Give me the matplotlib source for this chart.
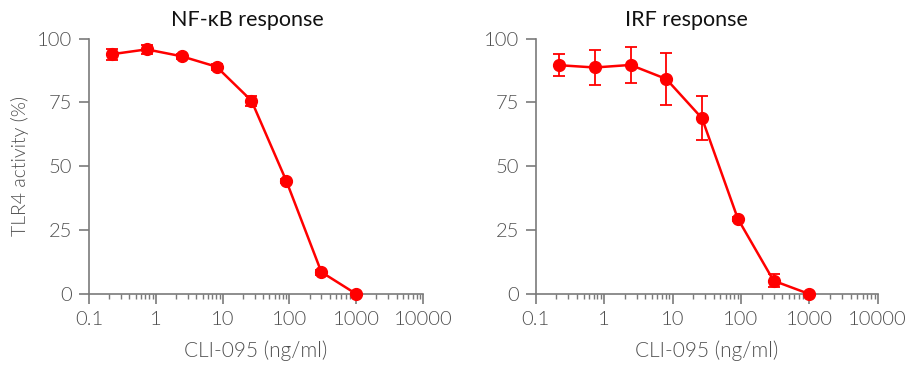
import matplotlib
matplotlib.use("Agg")
import matplotlib.pyplot as plt
import matplotlib.ticker as mticker
import numpy as np

plt.rcParams['font.family'] = ['Lato', 'DejaVu Sans']

conc = [0.22, 0.73, 2.43, 8.1, 27, 90, 300, 1000]
nfkb = [93.9, 95.8, 93.1, 89.0, 75.7, 44.2, 8.6, 0.0]
nfkb_err = [2.2, 1.8, 1.0, 1.2, 2.0, 0.8, 1.0, 0.5]
irf = [89.6, 88.7, 89.7, 84.2, 68.8, 29.5, 5.2, 0.0]
irf_err = [4.4, 7.0, 7.0, 10.3, 8.6, 0.8, 2.5, 0.5]
titles = ["NF-\u03baB response", "IRF response"]
xticks = [0.1, 1, 10, 100, 1000, 10000]
xticklabels = ["0.1", "1", "10", "100", "1000", "10000"]
yticks = [0, 25, 50, 75, 100]

fig = plt.figure(figsize=(9.08, 3.68), dpi=100)
ax1 = fig.add_axes([0.098, 0.201, 0.368, 0.694])
ax2 = fig.add_axes([0.590, 0.201, 0.3767, 0.694])

red = '#ff0000'
gray = '#505050'
spine_c = '#7a7a7a'
lw_txt = 300

for ax, y, e, t, tx in [(ax1, nfkb, nfkb_err, titles[0], 0.473),
                        (ax2, irf, irf_err, titles[1], 0.44)]:
    ax.errorbar(conc, y, yerr=e, color=red, lw=1.8, marker='o', ms=8.5,
                elinewidth=1.3, capsize=4, capthick=1.3, clip_on=False, zorder=3)
    ax.set_xscale('log')
    ax.set_xlim(0.1, 10000)
    ax.set_ylim(0, 100)
    ax.set_xticks(xticks)
    ax.set_xticklabels(xticklabels)
    ax.xaxis.set_minor_locator(mticker.LogLocator(base=10, subs=np.arange(2, 10)))
    ax.xaxis.set_minor_formatter(mticker.NullFormatter())
    ax.set_yticks(yticks)
    for s in ['top', 'right']:
        ax.spines[s].set_visible(False)
    for s in ['left', 'bottom']:
        ax.spines[s].set_color(spine_c)
        ax.spines[s].set_linewidth(1.2)
    ax.tick_params(axis='both', which='major', length=7, width=1.2, color=spine_c,
                   labelsize=14.5, labelcolor=gray, pad=5)
    ax.tick_params(axis='x', which='minor', length=3.5, width=1.0, color=spine_c)
    for lab in ax.get_xticklabels() + ax.get_yticklabels():
        lab.set_fontweight(lw_txt)
    ax.set_title(t, fontsize=15.5, color='#111111', pad=9, fontweight='normal', x=tx)
    ax.set_xlabel("CLI-095 (ng/ml)", fontsize=15, color=gray, labelpad=9,
                  fontweight=lw_txt)

ax1.set_ylabel("TLR4 activity (%)", fontsize=14, color=gray, labelpad=6,
               fontweight=lw_txt)

fig.savefig("out.png", dpi=100)
